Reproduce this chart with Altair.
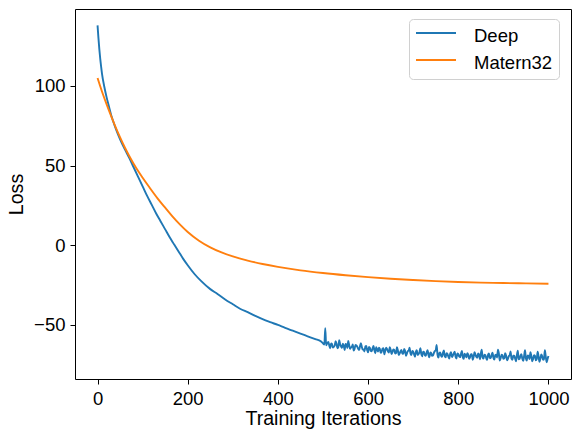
import altair as alt
import pandas as pd

# ---- data ----
deep_x = [0, 2, 4, 6, 8, 10, 15, 20, 25, 30, 35, 40, 50, 60, 70, 80, 90, 100,
          110, 120, 130, 140, 150, 160, 170, 180, 190, 200, 215, 230, 250, 266,
          283, 300, 316, 333, 350, 366, 383, 400, 416, 433, 450, 466, 483, 495,
          500, 503, 505, 507, 510]
deep_y = [138, 130, 123, 117, 112, 107.5, 99.5, 93, 87.5, 82, 77.5, 73.5, 66.5,
          60.5, 55, 49, 43, 37, 31, 25.5, 20, 15, 10, 5, 0.5, -4, -8.5, -12.5,
          -18, -22.5, -27.5, -30.5, -34, -37, -39.8, -42, -44.3, -46.3, -48.2,
          -50, -51.8, -53.6, -55.4, -57.1, -58.9, -60.2,
          -61.5, -62.3, -52, -62.8, -61.2]

# noisy tail, iterations 512..1000 every 4
tail_x_a = [512, 516, 520, 524, 528, 532, 536, 540, 544, 548, 552, 556, 560, 564,
            568, 572, 576, 580, 584, 588, 592, 596, 600, 604, 608, 612, 616, 620,
            624, 628, 632, 636, 640, 644, 648, 652, 656, 660, 664, 668, 672, 676,
            680, 684, 688, 692, 696, 700, 704, 708, 712, 716, 720, 724, 728, 732,
            736, 740, 744, 748, 752, 756, 760, 764, 768, 772, 776, 780, 784, 788,
            792, 796, 800, 804, 808, 812, 816, 820, 824, 828, 832, 836, 840, 844,
            848, 852, 856, 860, 864, 868, 872, 876, 880, 884, 888, 892, 896, 900,
            904, 908, 912, 916, 920, 924, 928, 932, 936, 940, 944, 948, 952, 956,
            960, 964, 968, 972, 976, 980, 984, 988, 992, 996, 1000]
tail_y_a = [-60.7, -64.6, -62.0, -63.7, -60.2, -64.6, -59.5, -63.4, -61.8, -65.7,
            -62.4, -60.0, -65.0, -63.7, -66.1, -62.6, -63.7, -65.8, -61.5, -65.4,
            -66.6, -63.2, -67.2, -64.4, -66.5, -63.1, -67.7, -65.3, -64.2, -67.5,
            -64.9, -68.4, -64.2, -66.6, -63.9, -68.3, -65.3, -67.9, -63.9, -68.9,
            -66.4, -68.0, -65.0, -69.3, -66.4, -64.3, -68.9, -66.8, -69.9, -65.9,
            -68.3, -64.5, -69.7, -66.9, -69.3, -65.8, -70.3, -67.6, -69.2, -66.4,
            -62.5, -70.5, -67.2, -70.0, -66.0, -70.3, -68.2, -71.1, -67.1, -69.2,
            -66.8, -71.0, -68.2, -70.2, -66.3, -71.3, -68.9, -67.7, -71.2, -68.3,
            -71.8, -67.1, -70.0, -67.8, -71.6, -65.5, -71.1, -69.0, -71.9, -67.8,
            -70.6, -67.4, -71.7, -68.7, -65.5, -72.3, -68.6, -71.3, -67.7, -72.2,
            -69.6, -66.6, -71.9, -69.2, -72.8, -66.1, -71.3, -68.4, -72.5, -65.9,
            -72.3, -69.6, -67.1, -72.8, -69.0, -72.2, -66.8, -73.1, -68.5, -71.8,
            -65.8, -73.4, -69.4]

# noisy tail, iterations 514..998 every 4
tail_x_b = [514, 518, 522, 526, 530, 534, 538, 542, 546, 550, 554, 558, 562, 566,
            570, 574, 578, 582, 586, 590, 594, 598, 602, 606, 610, 614, 618, 622,
            626, 630, 634, 638, 642, 646, 650, 654, 658, 662, 666, 670, 674, 678,
            682, 686, 690, 694, 698, 702, 706, 710, 714, 718, 722, 726, 730, 734,
            738, 742, 746, 750, 754, 758, 762, 766, 770, 774, 778, 782, 786, 790,
            794, 798, 802, 806, 810, 814, 818, 822, 826, 830, 834, 838, 842, 846,
            850, 854, 858, 862, 866, 870, 874, 878, 882, 886, 890, 894, 898, 902,
            906, 910, 914, 918, 922, 926, 930, 934, 938, 942, 946, 950, 954, 958,
            962, 966, 970, 974, 978, 982, 986, 990, 994, 998]
tail_y_b = [-63.0, -61.6, -64.2, -62.9, -61.8, -63.9, -62.1, -64.3, -63.0, -61.9,
            -64.4, -62.6, -64.1, -62.2, -65.0, -62.9, -64.9, -63.4, -63.6, -65.3,
            -63.5, -65.9, -63.8, -66.3, -64.6, -65.9, -64.0, -66.6, -65.0, -66.9,
            -64.6, -66.2, -65.1, -67.3, -65.4, -67.0, -65.6, -67.6, -65.9, -67.9,
            -65.7, -68.1, -66.2, -68.0, -66.1, -67.9, -66.3, -68.4, -66.8, -68.9,
            -66.9, -68.3, -66.8, -68.9, -67.1, -69.0, -67.2, -69.4, -67.5, -65.9,
            -68.8, -67.6, -69.4, -67.4, -69.6, -67.7, -69.8, -68.0, -70.1, -67.9,
            -69.9, -67.8, -69.8, -68.1, -70.2, -68.0, -70.3, -68.6, -70.4, -68.3,
            -70.1, -68.5, -70.6, -68.6, -68.0, -70.5, -68.7, -70.8, -68.7, -70.9,
            -68.8, -70.7, -68.9, -70.4, -67.9, -70.9, -69.0, -71.0, -69.1, -71.3,
            -69.0, -71.2, -69.3, -71.0, -69.0, -71.6, -69.2, -71.2, -69.4, -71.0,
            -69.1, -71.4, -69.3, -71.3, -69.4, -71.5, -69.6, -71.2, -69.5, -71.6,
            -69.7, -71.4]

matern_x = [0, 5, 10, 20, 30, 40, 50, 60, 70, 80, 90, 100, 115, 133, 150, 166,
            183, 200, 225, 250, 275, 300, 333, 366, 400, 450, 500, 550, 600,
            650, 700, 750, 800, 850, 900, 950, 1000]
matern_y = [105, 100.6, 96.4, 88.6, 81.2, 74.2, 67.7, 61.7, 56.2, 51.2, 46.6,
            42.4, 36.4, 29.5, 23.6, 18.2, 13.0, 8.4, 2.9, -1.3, -4.5, -7.0,
            -9.6, -11.7, -13.5, -15.7, -17.4, -18.8, -20.0, -21.0, -21.8,
            -22.5, -23.0, -23.4, -23.7, -23.9, -24.1]

series_names = ["Deep", "Matern32"]
series_colors = ["#1f77b4", "#ff7f0e"]
x_ticks = [0, 200, 400, 600, 800, 1000]
y_ticks = [-50, 0, 50, 100]

df = pd.concat([
    pd.DataFrame({"iter": deep_x + tail_x_a + tail_x_b,
                  "loss": deep_y + tail_y_a + tail_y_b, "series": "Deep"}),
    pd.DataFrame({"iter": matern_x, "loss": matern_y, "series": "Matern32"}),
])

FONT = "Liberation Sans"
FS = 18.5

chart = alt.Chart(df).mark_line(strokeWidth=1.9, interpolate="monotone").encode(
    x=alt.X("iter:Q",
            scale=alt.Scale(domain=[-50, 1050], nice=False, zero=False),
            axis=alt.Axis(values=x_ticks, title="Training Iterations",
                          format="d")),
    y=alt.Y("loss:Q",
            scale=alt.Scale(domain=[-83.9, 148.3], nice=False, zero=False),
            axis=alt.Axis(values=y_ticks, title="Loss", format="d")),
    color=alt.Color("series:N",
                    scale=alt.Scale(domain=series_names, range=series_colors),
                    legend=alt.Legend(
                        title=None, orient="none", legendX=334, legendY=10,
                        symbolType="M-1,-0.3H3", symbolSize=400,
                        symbolStrokeWidth=1.9, labelFont=FONT,
                        labelFontSize=FS, labelColor="black",
                        labelAlign="left",
                        labelOffset=37, rowPadding=6,
                        fillColor="white", strokeColor="#d0d0d0",
                        cornerRadius=4, padding=6)),
    order=alt.Order("iter:Q"),
).properties(
    width=496, height=370,
    autosize=alt.AutoSizeParams(type="none"),
    padding={"left": 75, "top": 9, "right": 10, "bottom": 59},
).configure_view(
    stroke="black", strokeWidth=1
).configure_axis(
    grid=False, domain=False, tickColor="black", tickSize=5, tickWidth=1,
    labelFont=FONT, labelFontSize=FS, labelColor="black", labelPadding=5,
    titleFont=FONT, titleFontSize=19.6, titleColor="black",
    titleFontWeight="normal",
).configure_axisX(
    titlePadding=2
).configure_axisY(
    titlePadding=7
)

chart.save("out.html", embed_options={"renderer": "svg", "actions": False})
